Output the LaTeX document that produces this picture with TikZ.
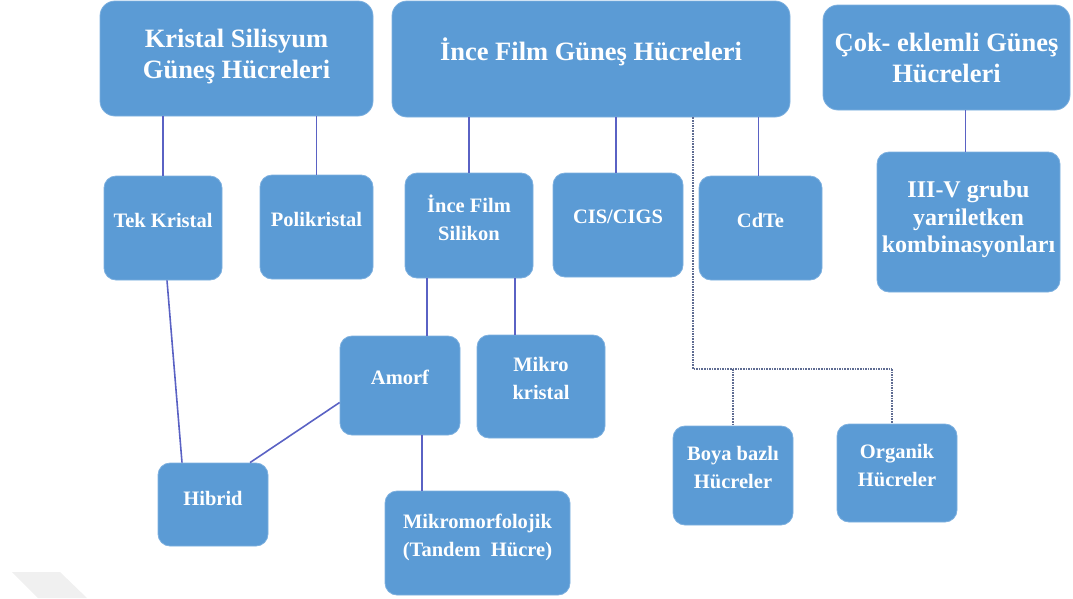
\documentclass[tikz,border=0pt]{standalone}
\usepackage{fontspec}
\setmainfont{Liberation Serif}
\usepackage{tikz}
\usetikzlibrary{calc}
\definecolor{kutu}{HTML}{5B9BD5}
\definecolor{kenar}{HTML}{7DB0DF}
\definecolor{baglanti}{HTML}{5A62C4}
\definecolor{noktali}{HTML}{5F6C92}

\begin{document}
\begin{tikzpicture}[x=1pt,y=-1pt]
  \tikzstyle{every node}=[font=\bfseries, text=white, align=center]
  \tikzstyle{anakutu}=[draw=kenar, fill=kutu, line width=0.8pt, rounded corners=15pt,
    inner sep=0pt, font=\fontsize{26.5}{31}\selectfont\bfseries]
  \tikzstyle{altkutu}=[draw=kenar, fill=kutu, line width=0.8pt, rounded corners=12pt,
    inner sep=0pt, text depth=16pt, font=\fontsize{20.5}{28}\selectfont\bfseries]
  \tikzstyle{cizgi}=[draw=baglanti, line width=1.6pt]
  \tikzstyle{nokta}=[draw=noktali, line width=1.6pt, densely dotted]
  \useasboundingbox (0,0) rectangle (1073,598);
  \fill[black!6] (12,572) -- (60,572) -- (87,598) -- (38,598) -- cycle;
  % ana gruplar
  \node[anakutu, minimum width=273pt, minimum height=115pt, text depth=10pt] (ks) at (236.5,58.5)
    {Kristal Silisyum\\Güneş Hücreleri};
  \node[anakutu, minimum width=398pt, minimum height=116pt, text depth=20pt] (ifg) at (591,59)
    {İnce Film Güneş Hücreleri};
  \node[anakutu, minimum width=247pt, minimum height=105pt] (ce) at (946.5,57.5)
    {Çok- eklemli Güneş\\Hücreleri};
  % alt gruplar
  \node[altkutu, minimum width=118pt, minimum height=104pt] (tek) at (163,228) {Tek Kristal};
  \node[altkutu, minimum width=113pt, minimum height=104pt] (poli) at (316.5,227) {Polikristal};
  \node[altkutu, minimum width=128pt, minimum height=105pt] (ifs) at (469,225.5) {İnce Film\\Silikon};
  \node[altkutu, minimum width=130pt, minimum height=104pt] (cis) at (618,225) {CIS/CIGS};
  \node[altkutu, minimum width=123pt, minimum height=104pt] (cdte) at (760.5,228) {CdTe};
  \node[altkutu, minimum width=183pt, minimum height=140pt, text depth=10pt,
    font=\fontsize{24}{27.5}\selectfont\bfseries] (iiiv) at (968.5,222)
    {III-V grubu\\yarıiletken\\kombinasyonları};
  \node[altkutu, minimum width=120pt, minimum height=99pt] (amorf) at (400,385.5) {Amorf};
  \node[altkutu, minimum width=128pt, minimum height=103pt] (mikro) at (541,386.5) {Mikro\\kristal};
  \node[altkutu, minimum width=110pt, minimum height=83pt, text depth=12pt] (hibrid) at (213,504.5) {Hibrid};
  \node[altkutu, minimum width=185pt, minimum height=104pt] (mm) at (477.5,543)
    {Mikromorfolojik\\(Tandem~ Hücre)};
  \node[altkutu, minimum width=120pt, minimum height=99pt] (boya) at (733,475.5) {Boya bazlı\\Hücreler};
  \node[altkutu, minimum width=120pt, minimum height=98pt] (org) at (897,473) {Organik\\Hücreler};
  % baglantilar
  \draw[cizgi] (tek.north) -- (tek.north |- ks.south);
  \draw[cizgi] (poli.north) -- (poli.north |- ks.south);
  \draw[cizgi] (ifs.north) -- (ifs.north |- ifg.south);
  \draw[cizgi] ([xshift=-2pt]cis.north) -- ([xshift=-2pt]cis.north |- ifg.south);
  \draw[cizgi] ([xshift=-2pt]cdte.north) -- ([xshift=-2pt]cdte.north |- ifg.south);
  \draw[cizgi] ([xshift=-3pt]iiiv.north) -- ([xshift=-3pt]iiiv.north |- ce.south);
  \draw[cizgi] ([xshift=-42pt]ifs.south) -- ([xshift=-42pt]ifs.south |- amorf.north);
  \draw[cizgi] ([xshift=46pt]ifs.south) -- ([xshift=46pt]ifs.south |- mikro.north);
  \draw[cizgi] ([xshift=22pt]amorf.south) -- ([xshift=22pt]amorf.south |- mm.north);
  \draw[cizgi] ([xshift=4pt]tek.south) -- ([xshift=-31pt]hibrid.north);
  \draw[cizgi] ([yshift=-17pt]amorf.west) -- ([xshift=37pt]hibrid.north);
  % noktali kol
  \coordinate (kol) at (693,369);
  \coordinate (orgust) at ([xshift=-5pt]org.north);
  \draw[nokta] ([xshift=102pt]ifg.south) -- (kol) -- (kol -| orgust);
  \draw[nokta] (kol -| boya.north) -- (boya.north);
  \draw[nokta] (kol -| orgust) -- (orgust);
\end{tikzpicture}
\end{document}
